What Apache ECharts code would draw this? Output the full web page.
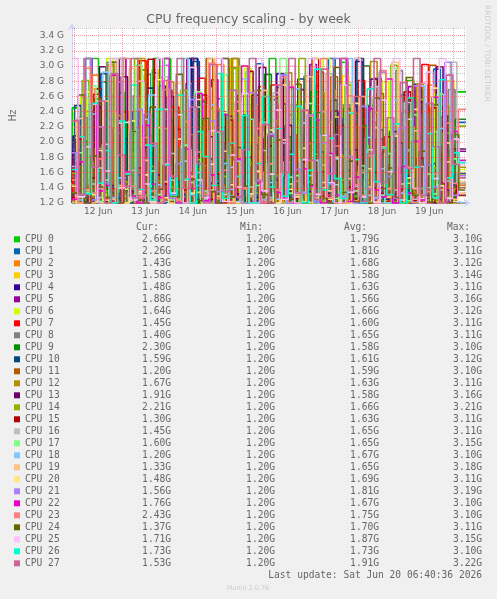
<!DOCTYPE html>
<html>
<head>
<meta charset="utf-8">
<title>CPU frequency scaling - by week</title>
<script src="https://cdn.jsdelivr.net/npm/echarts@6/dist/echarts.min.js"></script>
<style>
  html, body { margin: 0; padding: 0; background: #F0F0F0; }
  #main { width: 497px; height: 599px; }
</style>
</head>
<body>
<div id="main"></div>
<script>
// x is counted in hours from 11 Jun 00:00
var tStart = 22 + 40 / 60;   // 11 Jun 22:40
var tEnd = 222 + 40 / 60;    // 20 Jun 06:40

var cpuNames = ['CPU 0', 'CPU 1', 'CPU 2', 'CPU 3', 'CPU 4', 'CPU 5', 'CPU 6', 'CPU 7',
  'CPU 8', 'CPU 9', 'CPU 10', 'CPU 11', 'CPU 12', 'CPU 13', 'CPU 14', 'CPU 15',
  'CPU 16', 'CPU 17', 'CPU 18', 'CPU 19', 'CPU 20', 'CPU 21', 'CPU 22', 'CPU 23',
  'CPU 24', 'CPU 25', 'CPU 26', 'CPU 27'];
var cpuColors = ['#00CC00', '#0066B3', '#FF8000', '#FFCC00', '#330099', '#990099', '#CCFF00', '#FF0000',
  '#808080', '#008F00', '#00487D', '#B35A00', '#B38F00', '#6B006B', '#8FB300', '#B30000',
  '#BEBEBE', '#80FF80', '#80C9FF', '#FFC080', '#FFE680', '#AA80FF', '#EE00CC', '#FF8080',
  '#666600', '#FFBFFF', '#00FFCC', '#CC6699'];

// legend table (GHz)
var curVals = [2.66, 2.26, 1.43, 1.58, 1.48, 1.88, 1.64, 1.45, 1.40, 2.30, 1.59, 1.20, 1.67, 1.91,
  2.21, 1.30, 1.45, 1.60, 1.20, 1.33, 1.48, 1.56, 1.76, 2.43, 1.37, 1.71, 1.73, 1.53];
var minVals = [1.20, 1.20, 1.20, 1.20, 1.20, 1.20, 1.20, 1.20, 1.20, 1.20, 1.20, 1.20, 1.20, 1.20,
  1.20, 1.20, 1.20, 1.20, 1.20, 1.20, 1.20, 1.20, 1.20, 1.20, 1.20, 1.20, 1.20, 1.20];
var avgVals = [1.79, 1.81, 1.68, 1.58, 1.63, 1.56, 1.66, 1.60, 1.65, 1.58, 1.61, 1.59, 1.63, 1.58,
  1.66, 1.63, 1.65, 1.65, 1.67, 1.65, 1.69, 1.81, 1.67, 1.75, 1.70, 1.87, 1.73, 1.91];
var maxVals = [3.10, 3.11, 3.12, 3.14, 3.11, 3.16, 3.12, 3.11, 3.11, 3.10, 3.12, 3.10, 3.11, 3.16,
  3.21, 3.11, 3.11, 3.15, 3.10, 3.18, 3.11, 3.19, 3.10, 3.10, 3.11, 3.15, 3.10, 3.22];

// x tick labels, placed at noon of each day
var dayLabels = ['12 Jun', '13 Jun', '14 Jun', '15 Jun', '16 Jun', '17 Jun', '18 Jun', '19 Jun'];
var dayNoons = [36, 60, 84, 108, 132, 156, 180, 204];

// frequency samples in 1/100 GHz, spread evenly from tStart to tEnd
var cpu0 = [128,245,131,176,310,142,120,198,265,137,152,120,289,166,134,310,221,125,143,187,120,256,139,171,124,298,160,133,210,120,147,310,128,182,236,121,158,129,274,144,120,193,305,136,162,127,248,170,122,215,139,120,281,151,188,125,230,146,196,266];
var cpu1 = [141,120,233,310,158,127,184,262,120,149,207,135,120,291,173,130,245,122,168,310,139,190,121,257,146,226,124,180,133,303,121,164,272,138,120,215,187,129,250,142,310,126,159,231,120,178,144,284,131,197,123,262,150,120,209,137,296,165,128,226];
var cpu2 = [120,164,212,131,288,125,147,120,236,158,133,310,140,121,189,126,265,150,120,174,227,129,143,302,122,161,137,120,249,171,128,196,120,280,145,132,218,124,155,120,268,139,177,123,310,130,151,204,120,186,135,242,127,166,120,275,144,192,126,143];
var cpu3 = [125,120,186,143,270,122,131,154,120,228,137,165,120,295,129,148,121,203,134,120,251,140,126,172,120,310,133,157,123,214,120,138,266,127,149,120,190,131,242,125,160,120,287,136,121,175,128,225,120,146,132,258,124,169,120,199,135,120,281,158];
var cpu4 = [137,208,120,163,126,299,145,120,182,131,240,124,156,120,274,139,127,193,120,310,128,150,222,122,168,120,261,134,143,120,205,126,290,141,120,178,132,247,123,159,120,231,137,125,306,144,120,186,129,213,122,167,120,276,135,152,124,234,120,148];
var cpu5 = [120,152,127,241,120,133,181,122,310,138,126,120,209,145,120,268,130,158,121,194,124,120,282,136,147,120,225,128,170,123,120,256,132,120,189,141,124,302,126,155,120,215,122,137,120,247,160,127,120,198,134,120,273,125,143,121,230,129,120,188];
var cpu6 = [146,121,259,130,178,120,310,137,153,124,216,120,142,285,127,166,120,237,133,190,120,271,148,122,205,131,120,297,139,160,125,228,120,174,135,253,121,149,120,310,129,183,122,244,140,120,196,126,279,134,157,120,219,128,171,123,264,138,120,164];
var cpu7 = [124,190,120,142,263,127,120,218,151,133,120,307,138,121,175,129,246,120,160,126,284,135,120,199,144,122,233,120,168,131,120,275,127,154,120,210,139,123,292,130,120,181,146,125,258,120,137,204,122,171,120,239,133,127,302,141,120,185,128,145];
var cpu8 = [155,127,232,120,174,138,305,122,149,120,261,131,186,123,120,243,147,128,277,120,164,135,120,220,126,310,141,121,196,133,120,255,150,124,171,120,287,137,125,208,129,120,249,143,160,122,226,120,181,136,294,124,152,120,237,130,167,121,269,140];
var cpu9 = [120,136,201,124,120,279,133,158,120,227,129,142,120,310,126,165,121,192,138,120,253,130,120,176,145,123,236,120,151,127,289,134,120,207,122,161,120,266,139,125,183,120,244,131,120,300,128,148,120,214,136,123,258,120,170,132,120,195,127,230];
var cpu10 = [130,248,122,167,120,290,141,126,205,120,157,134,271,123,120,229,148,131,120,306,127,178,120,240,139,124,193,120,262,136,120,153,221,128,120,283,145,122,187,133,255,120,163,129,310,121,140,216,125,120,199,137,120,268,126,172,120,234,143,159];
var cpu11 = [122,120,176,139,257,120,131,212,126,148,120,295,134,120,184,123,241,152,120,165,128,310,121,143,196,120,226,137,125,273,120,158,131,120,249,140,124,203,120,170,286,127,120,221,135,150,120,264,129,189,120,142,237,123,120,301,146,126,180,120];
var cpu12 = [144,120,223,128,162,120,302,135,121,185,131,252,120,149,126,279,138,120,210,124,169,120,244,142,127,310,120,173,133,230,121,156,120,291,137,125,198,120,265,147,123,181,120,238,130,120,306,139,161,122,215,120,134,276,128,152,120,247,136,167];
var cpu13 = [120,171,131,120,246,125,143,120,286,136,122,193,120,157,129,260,120,138,310,124,120,207,146,121,234,132,120,180,127,298,120,150,125,222,120,269,135,120,161,128,241,120,133,190,122,120,283,140,126,214,120,155,123,253,130,120,299,137,121,191];
var cpu14 = [159,127,281,120,192,136,120,235,148,123,310,130,168,120,218,141,126,268,120,177,134,244,121,155,120,297,139,128,206,120,171,260,125,145,120,310,132,184,122,227,120,150,275,129,163,120,239,143,127,301,120,188,131,256,124,166,120,212,138,221];
var cpu15 = [127,204,120,153,270,122,139,120,240,134,166,120,309,128,145,121,217,137,120,182,262,125,158,120,229,131,120,293,143,123,195,120,250,135,126,174,120,310,129,148,120,222,141,124,281,120,160,133,207,120,138,266,123,179,120,245,147,127,191,130];
var cpu16 = [133,120,258,145,127,197,120,310,139,163,121,230,128,120,286,150,124,175,120,246,136,120,213,131,167,122,300,141,120,189,127,265,120,154,133,225,121,176,120,290,144,126,239,120,160,130,273,120,185,137,120,252,125,168,120,214,142,120,305,145];
var cpu17 = [120,186,134,274,122,150,120,225,138,128,301,120,162,131,243,124,120,196,147,266,121,137,120,288,129,175,120,230,143,125,210,120,310,133,156,122,251,120,140,183,126,120,278,136,169,121,219,130,120,297,145,123,236,120,158,132,263,127,178,160];
var cpu18 = [168,124,120,237,139,292,127,153,120,214,135,120,262,144,122,185,120,310,131,160,126,249,120,172,138,121,283,130,120,226,147,125,199,120,270,134,156,123,240,120,178,129,310,142,120,206,127,165,120,255,133,190,121,274,140,126,218,149,122,120];
var cpu19 = [121,231,137,120,166,254,125,143,120,297,132,176,120,219,148,126,277,120,155,134,120,310,129,188,122,241,139,120,162,268,124,120,203,145,131,120,286,127,170,136,233,120,152,123,260,141,120,194,128,305,120,146,215,130,120,248,137,174,125,133];
var cpu20 = [142,120,266,131,189,124,310,140,120,228,135,157,122,282,127,120,204,150,133,256,120,171,126,239,144,120,299,132,161,123,216,120,275,138,128,192,120,310,147,125,180,134,120,251,129,165,121,290,139,208,120,153,243,126,120,271,143,199,122,148];
var cpu21 = [186,131,310,124,220,147,120,279,160,128,243,120,195,139,301,126,172,120,256,143,122,228,135,310,129,176,120,265,150,124,211,137,288,120,164,133,236,121,199,145,310,127,181,120,247,138,126,292,155,120,219,132,274,124,170,141,120,305,130,156];
var cpu22 = [125,174,120,250,136,143,288,120,161,129,120,222,145,127,310,131,120,191,139,264,123,157,120,236,128,178,300,121,147,120,208,134,126,272,120,165,142,229,120,185,130,310,122,154,120,244,137,128,283,120,168,133,201,124,120,259,146,121,214,176];
var cpu23 = [150,120,297,133,178,125,240,120,310,142,128,206,136,120,269,155,123,227,120,187,131,304,126,163,120,253,140,129,218,120,172,137,285,121,149,120,234,132,310,127,195,120,261,144,130,182,120,294,138,211,124,167,120,277,135,158,120,225,146,243];
var cpu24 = [133,262,120,182,141,127,305,120,157,214,124,120,246,138,170,129,289,120,151,123,231,135,120,310,128,193,142,120,268,131,120,203,160,125,276,120,144,239,126,120,298,134,175,122,221,120,258,139,166,127,120,285,130,188,121,249,145,120,210,137];
var cpu25 = [310,128,194,250,120,162,310,139,226,124,280,145,120,310,171,133,236,120,298,150,127,215,310,122,183,141,264,120,310,136,158,242,125,300,120,177,310,131,209,147,120,275,134,310,128,190,121,255,161,310,124,230,139,120,292,152,310,126,204,171];
var cpu26 = [164,207,132,251,146,189,120,228,158,275,138,196,124,243,170,130,262,151,120,214,181,143,290,126,199,155,235,120,172,260,141,218,129,184,247,120,163,296,137,205,152,126,238,177,120,270,148,192,131,224,120,258,167,139,211,127,282,153,186,173];
var cpu27 = [228,131,310,167,254,120,290,183,142,310,126,237,198,120,281,155,310,139,246,172,120,302,214,135,268,128,190,310,149,223,120,275,160,310,133,242,176,124,296,158,210,310,137,260,122,185,310,147,232,126,278,165,310,130,251,194,120,288,171,153];

var cpuSamples = [cpu0, cpu1, cpu2, cpu3, cpu4, cpu5, cpu6, cpu7, cpu8, cpu9, cpu10, cpu11, cpu12, cpu13,
  cpu14, cpu15, cpu16, cpu17, cpu18, cpu19, cpu20, cpu21, cpu22, cpu23, cpu24, cpu25, cpu26, cpu27];

var textColor = '#666666';
var axisColor = '#CFD6F8';
var monoFont = '"DejaVu Sans Mono", monospace';
var sansFont = '"DejaVu Sans", sans-serif';

var chart = echarts.init(document.getElementById('main'));

// each CPU's samples sit on its own slightly shifted slot so the
// transitions of the 28 lines do not all stack on the same columns
var series = cpuSamples.map(function (vals, k) {
  var n = vals.length;
  var step = (tEnd - tStart) / n;
  var shift = (k + 1) / cpuSamples.length;
  var pts = [[tStart, vals[0]]];
  vals.forEach(function (v, i) { pts.push([tStart + (i + shift) * step, v]); });
  pts.push([tEnd, vals[n - 1]]);
  return {
    name: cpuNames[k],
    type: 'line',
    step: 'start',
    symbol: 'none',
    showSymbol: false,
    animation: false,
    emphasis: { disabled: true },
    lineStyle: { width: 1.6, color: cpuColors[k] },
    itemStyle: { color: cpuColors[k] },
    data: pts
  };
});

// rrdtool style dotted grid, drawn over the data
var majorGrid = { color: 'rgba(225, 80, 80, 0.5)', width: 1, type: [1, 1] };
var minorGrid = { color: 'rgba(140, 140, 140, 0.4)', width: 1, type: [1, 1] };
var gridLines = [];
for (var h = 6; h < tEnd; h += 6) {
  if (h <= tStart) continue;
  gridLines.push({ xAxis: h, lineStyle: h % 24 === 0 ? majorGrid : minorGrid });
}
for (var f = 130; f <= 350; f += 10) {
  gridLines.push({ yAxis: f, lineStyle: f % 20 === 0 ? majorGrid : minorGrid });
}
series.push({
  name: 'grid',
  type: 'line',
  data: [],
  z: 10,
  silent: true,
  animation: false,
  markLine: {
    silent: true,
    animation: false,
    symbol: ['none', 'none'],
    label: { show: false },
    emphasis: { disabled: true },
    data: gridLines
  }
});

// legend table text
var graphics = [];
var colRight = [171, 275, 379, 482];
var headers = ['Cur:', 'Min:', 'Avg:', 'Max:'];
var columns = [curVals, minVals, avgVals, maxVals];
headers.forEach(function (t, c) {
  graphics.push({ type: 'text', silent: true,
    style: { text: t, x: colRight[c] - 12, y: 227.5, align: 'right', verticalAlign: 'middle', font: '9.6px ' + monoFont, fill: textColor } });
});
columns.forEach(function (col, c) {
  col.forEach(function (v, i) {
    graphics.push({ type: 'text', silent: true,
      style: { text: v.toFixed(2) + 'G', x: colRight[c], y: 239.3 + i * 12, align: 'right', verticalAlign: 'middle', font: '9.6px ' + monoFont, fill: textColor } });
  });
});
graphics.push({ type: 'text', silent: true,
  style: { text: 'Last update: Sat Jun 20 06:40:36 2026', x: 482, y: 575.5, align: 'right', verticalAlign: 'middle', font: '9.6px ' + monoFont, fill: textColor } });
graphics.push({ type: 'text', silent: true,
  style: { text: 'Munin 2.0.76', x: 248, y: 588, align: 'center', verticalAlign: 'middle', font: '6.5px ' + sansFont, fill: '#CCCCCC' } });
graphics.push({ type: 'text', silent: true, x: 487, y: 5, rotation: -Math.PI / 2,
  style: { text: 'RRDTOOL / TOBI OETIKER', x: 0, y: 0, align: 'left', verticalAlign: 'middle', font: '7.5px ' + sansFont, fill: '#CCCCCC' } });

var option = {
  backgroundColor: '#F0F0F0',
  animation: false,
  title: {
    text: 'CPU frequency scaling - by week',
    left: 'center',
    top: 13.5,
    padding: 0,
    textStyle: { fontFamily: sansFont, fontSize: 12.5, fontWeight: 'normal', color: textColor }
  },
  grid: {
    left: 67, right: 31, top: 28, bottom: 396,
    show: true, backgroundColor: '#FFFFFF', borderWidth: 0
  },
  legend: {
    orient: 'vertical',
    left: 14,
    top: 233.3,
    padding: 0,
    itemWidth: 6,
    itemHeight: 6,
    itemGap: 0,
    icon: 'rect',
    selectedMode: false,
    data: cpuNames,
    textStyle: { fontFamily: monoFont, fontSize: 9.6, color: textColor, lineHeight: 12 }
  },
  xAxis: {
    type: 'value',
    min: tStart,
    max: tEnd,
    axisLine: { show: true, lineStyle: { color: axisColor }, symbol: ['none', 'arrow'], symbolSize: [6, 7], symbolOffset: [0, 5] },
    axisTick: { show: false },
    splitLine: { show: false },
    axisLabel: {
      customValues: dayNoons,
      formatter: function (v) { return dayLabels[dayNoons.indexOf(Math.round(v))] || ''; },
      color: textColor, fontFamily: sansFont, fontSize: 9, margin: 4
    }
  },
  yAxis: {
    type: 'value',
    min: 120,
    max: 350,
    interval: 20,
    name: 'Hz',
    nameLocation: 'middle',
    nameRotate: 90,
    nameGap: 54,
    nameTextStyle: { color: textColor, fontFamily: sansFont, fontSize: 9.6 },
    axisLine: { show: true, lineStyle: { color: axisColor }, symbol: ['none', 'arrow'], symbolSize: [6, 7], symbolOffset: [0, 5] },
    axisTick: { show: false },
    splitLine: { show: false },
    axisLabel: {
      showMaxLabel: false,
      formatter: function (v) { return (v / 100).toFixed(1) + ' G'; },
      color: textColor, fontFamily: sansFont, fontSize: 9, margin: 8
    }
  },
  graphic: graphics,
  series: series
};

chart.setOption(option);
</script>
</body>
</html>
